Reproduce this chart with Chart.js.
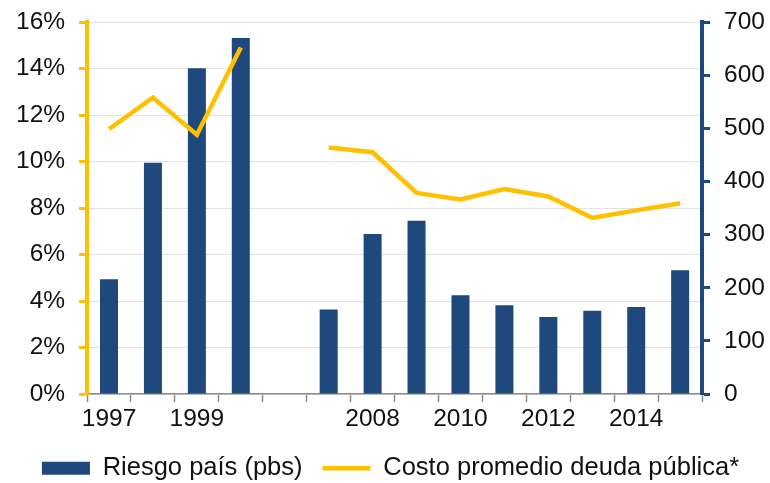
<!DOCTYPE html>
<html lang="es">
<head>
    <meta charset="UTF-8">
    <title>Riesgo país y costo de la deuda</title>
    <script src="https://cdn.jsdelivr.net/npm/chart.js"></script>
    <style>
        body { margin: 0; background: #fff; }
        #wrap { width: 770px; height: 483px; }
    </style>
</head>
<body>
    <div id="wrap"><canvas id="chart"></canvas></div>

    <script>
        // datos
        const categories = ['1997', '1998', '1999', '2000', '', '2007', '2008', '2009', '2010', '2011', '2012', '2013', '2014', '2015'];
        const tickLabels = ['1997', '', '1999', '', '', '', '2008', '', '2010', '', '2012', '', '2014', ''];
        const riesgoPais = [216, 435, 613, 670, null, 159, 301, 326, 186, 167, 145, 157, 164, 233];
        const costoDeuda = [11.4, 12.75, 11.15, 14.9, null, 10.6, 10.4, 8.65, 8.37, 8.82, 8.5, 7.58, 7.9, 8.21];

        const azul = '#1F497D';
        const amarillo = '#FFC000';

        Chart.defaults.font.family = 'Liberation Sans, Arial, sans-serif';
        Chart.defaults.font.size = 24.5;
        Chart.defaults.color = '#111';

        // se recorta el espacio sobrante debajo de la leyenda
        const ajusteLeyenda = {
            id: 'ajusteLeyenda',
            beforeInit(chart) {
                const fitOrig = chart.legend.fit;
                chart.legend.fit = function () {
                    fitOrig.call(this);
                    this.height -= 8;
                };
            }
        };

        // el margen superior lo fija layout.padding.top
        const sinMargenSup = (scale) => { scale.paddingTop = 0; };

        const ctx = document.getElementById('chart').getContext('2d');
        new Chart(ctx, {
            type: 'bar',
            data: {
                labels: categories,
                datasets: [{
                    type: 'bar',
                    label: 'Riesgo país (pbs)',
                    data: riesgoPais,
                    backgroundColor: azul,
                    borderWidth: 0,
                    yAxisID: 'y2',
                    barPercentage: 0.41,
                    categoryPercentage: 1,
                    pointStyle: 'rect',
                    order: 1
                }, {
                    type: 'line',
                    label: 'Costo promedio deuda pública*',
                    data: costoDeuda,
                    borderColor: amarillo,
                    backgroundColor: amarillo,
                    borderWidth: 4.5,
                    pointRadius: 0,
                    tension: 0,
                    spanGaps: false,
                    yAxisID: 'y',
                    pointStyle: 'line',
                    order: 0
                }]
            },
            plugins: [ajusteLeyenda],
            options: {
                responsive: true,
                maintainAspectRatio: false,
                animation: false,
                layout: { padding: { left: 2, right: -9, top: 22, bottom: 0 } },
                plugins: {
                    tooltip: { enabled: false },
                    legend: {
                        position: 'bottom',
                        labels: {
                            usePointStyle: true,
                            pointStyleWidth: 48,
                            boxHeight: 13,
                            padding: 20,
                            font: { size: 25.5 },
                            sort: (a, b) => a.datasetIndex - b.datasetIndex
                        }
                    }
                },
                scales: {
                    x: {
                        offset: true,
                        grid: {
                            offset: true,
                            drawOnChartArea: false,
                            tickLength: 8,
                            tickColor: '#8c8c8c',
                            tickWidth: 1.5
                        },
                        border: { color: '#8c8c8c', width: 1.5 },
                        ticks: {
                            autoSkip: false,
                            maxRotation: 0,
                            padding: 2,
                            callback: (v, i) => tickLabels[i]
                        }
                    },
                    y: {
                        position: 'left',
                        min: 0,
                        max: 16,
                        ticks: {
                            stepSize: 2,
                            padding: 14,
                            callback: v => v + '%'
                        },
                        grid: {
                            color: '#e3e3e3',
                            lineWidth: 1,
                            tickColor: amarillo,
                            tickWidth: 3,
                            tickLength: 8
                        },
                        border: { color: amarillo, width: 4 },
                        afterFit: sinMargenSup
                    },
                    y2: {
                        position: 'right',
                        min: 0,
                        max: 700,
                        ticks: { stepSize: 100, padding: 14 },
                        grid: {
                            drawOnChartArea: false,
                            tickColor: azul,
                            tickWidth: 3,
                            tickLength: 8
                        },
                        border: { color: azul, width: 4 },
                        afterFit: sinMargenSup
                    }
                }
            }
        });
    </script>
</body>
</html>
